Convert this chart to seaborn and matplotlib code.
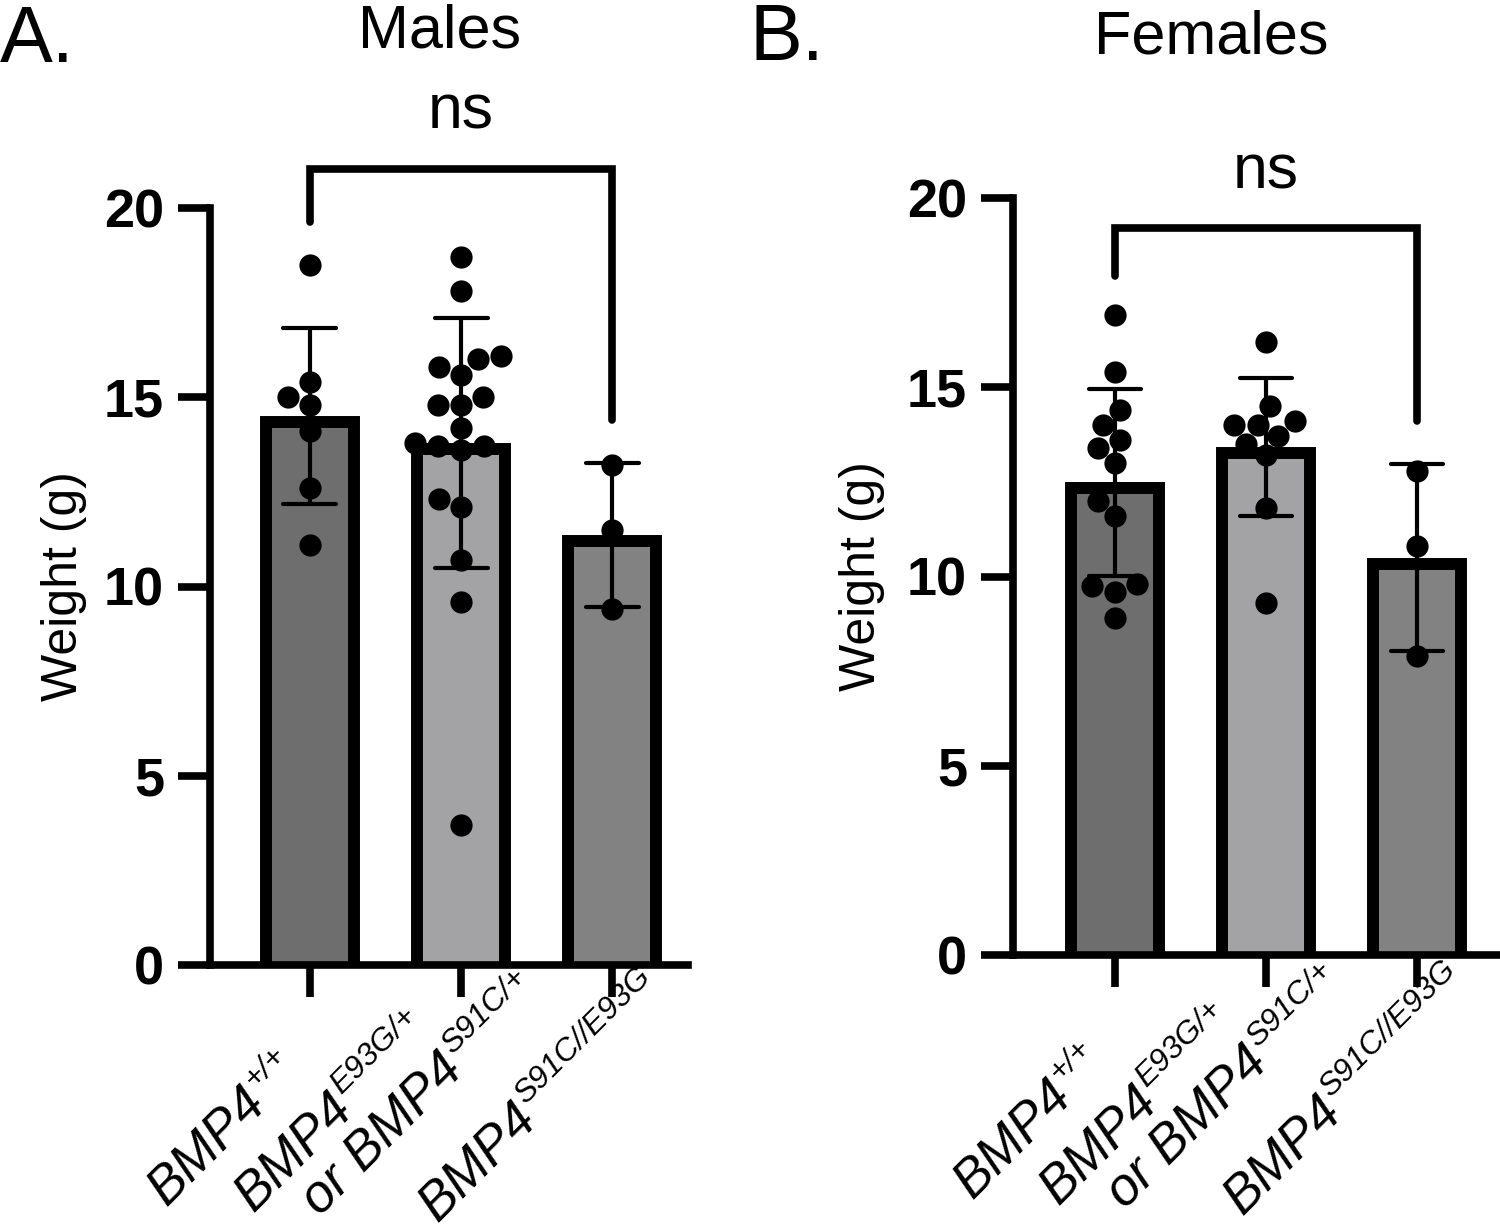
import matplotlib
matplotlib.use("Agg")
import matplotlib.pyplot as plt
import numpy as np
import pandas as pd
import seaborn as sns
from matplotlib.font_manager import FontProperties
from matplotlib.textpath import TextToPath

# ---- data ----
groups = ["wt", "het", "cmpd"]
# each label: list of lines, each line = (main text, superscript)
tick_labels = [
    [("BMP4", "+/+")],
    [("BMP4", "E93G/+"), ("or BMP4", "S91C/+")],
    [("BMP4", "S91C//E93G")],
]

male_wt = [18.5, 15.4, 15.0, 14.8, 14.1, 12.6, 11.1]
male_het = [18.7, 17.8, 16.1, 16.0, 15.8, 15.6, 15.0, 14.8, 14.8, 14.2,
            13.8, 13.7, 13.7, 13.6, 12.3, 12.1, 10.7, 9.6, 3.7]
male_cmpd = [13.2, 11.5, 9.4]

female_wt = [16.9, 15.4, 14.4, 14.0, 13.6, 13.4, 13.0, 12.0, 11.6,
             9.8, 9.75, 9.6, 8.9]
female_het = [16.2, 14.5, 14.1, 14.0, 14.0, 13.7, 13.5, 13.2, 11.8, 9.3]
female_cmpd = [12.8, 10.8, 7.9]

# ---- style ----
bar_colors = ["#6e6e6e", "#a3a3a7", "#828282"]
BAR_LW = 8.6      # pt
AX_LW = 5.5       # pt
LAB_FS = 38
SUP_FS = 23
# baseline start of each label line, px from (tick, axis line)
label_offsets = [[(-143, 242)], [(-208, 248), (-141, 252)], [(-175, 258)]]

sns.set_style("ticks")
plt.rcParams["font.family"] = ["Liberation Sans", "DejaVu Sans"]
for k in ("text.color", "axes.labelcolor", "axes.edgecolor",
          "xtick.color", "ytick.color"):
    plt.rcParams[k] = "black"

fig = plt.figure(figsize=(15, 12.29), dpi=100)
ax_m = fig.add_axes([210 / 1500, 264 / 1229, 478 / 1500, 757 / 1229])
ax_f = fig.add_axes([1013 / 1500, 274 / 1229, 487 / 1500, 757 / 1229])

t2p = TextToPath()
lab_prop = FontProperties(family="Liberation Sans", style="italic",
                          size=LAB_FS)
u = np.array([np.cos(np.pi / 4), np.sin(np.pi / 4)])
nrm = np.array([-np.sin(np.pi / 4), np.cos(np.pi / 4)])


def rot_text(ax, i, s, xy_off, fs):
    ax.annotate(s, xy=(i, 0), xycoords=("data", "axes fraction"),
                xytext=tuple(xy_off), textcoords="offset points",
                rotation=45, rotation_mode="anchor", ha="left",
                va="baseline", fontsize=fs, fontstyle="italic",
                annotation_clip=False)


def panel(ax, data, xlim, bracket, ns_y, ylab_x, lab_dy):
    df = pd.DataFrame({
        "group": np.repeat(groups, [len(v) for v in data]),
        "weight": np.concatenate(data),
    })
    sns.barplot(data=df, x="group", y="weight", hue="group", order=groups,
                hue_order=groups, palette=bar_colors, errorbar="sd",
                capsize=0.35, width=0.662, edgecolor="black",
                linewidth=BAR_LW, legend=False, ax=ax,
                err_kws={"color": "black", "linewidth": 3})
    ax.set_xlim(*xlim)
    ax.set_ylim(0, 20)

    # keep the thick outline inside the bar (GraphPad style)
    pos = ax.get_position()
    px_x = pos.width * fig.get_figwidth() * fig.dpi / (xlim[1] - xlim[0])
    px_y = pos.height * fig.get_figheight() * fig.dpi / 20
    half = BAR_LW * fig.dpi / 72 / 2
    for p in ax.patches:
        p.set_x(p.get_x() + half / px_x)
        p.set_width(p.get_width() - 2 * half / px_x)
        p.set_y(p.get_y() - half / px_y)

    sns.swarmplot(data=df, x="group", y="weight", order=groups, color="black",
                  size=16, linewidth=0, ax=ax, zorder=4, warn_thresh=1)
    ax.set_xlim(*xlim)
    ax.set_ylim(0, 20)

    sns.despine(ax=ax)
    for s in ("left", "bottom"):
        ax.spines[s].set_linewidth(AX_LW)
    ax.set_yticks([0, 5, 10, 15, 20])
    ax.set_yticklabels(["0", "5", "10", "15", "20"], fontweight="bold")
    ax.tick_params(axis="y", length=23, width=AX_LW, labelsize=39, pad=10)
    ax.set_xticks(range(len(groups)))
    ax.tick_params(axis="x", length=23, width=AX_LW, labelbottom=False)
    ax.set_xlabel("")
    ax.set_ylabel("Weight (g)", fontsize=36)
    ax.yaxis.set_label_coords(ylab_x, 0.5)

    # rotated genotype labels with superscripts
    for i, lines in enumerate(tick_labels):
        for (main, sup), (dx, dy) in zip(lines, label_offsets[i]):
            p0 = np.array([dx, -(dy + lab_dy)]) * 0.72
            w = t2p.get_text_width_height_descent(main, lab_prop, False)[0]
            rot_text(ax, i, main, p0, LAB_FS)
            rot_text(ax, i, sup, p0 + (w + 1.5) * u + 0.40 * LAB_FS * nrm,
                     SUP_FS)

    left_low, top, right_low = bracket
    ax.plot([0, 0, 2, 2], [left_low, top, top, right_low], color="black",
            lw=AX_LW, clip_on=False, solid_capstyle="round",
            solid_joinstyle="miter", zorder=5)
    ax.text(1, ns_y, "ns", ha="center", va="baseline", fontsize=45,
            clip_on=False)


panel(ax_m, [male_wt, male_het, male_cmpd], (-0.66, 2.5),
      (19.63, 21.04, 14.40), 22.11, -0.257, 0)
panel(ax_f, [female_wt, female_het, female_cmpd], (-0.675, 2.55),
      (17.94, 19.21, 14.12), 20.26, -0.263, 3)

fig.text(0.0, 1 - 62 / 1229, "A.", fontsize=57, va="baseline", ha="left")
fig.text(440 / 1500, 1 - 47 / 1229, "Males", fontsize=44, va="baseline",
         ha="center")
fig.text(749 / 1500, 1 - 60 / 1229, "B.", fontsize=57, va="baseline",
         ha="left")
fig.text(1211 / 1500, 1 - 53 / 1229, "Females", fontsize=44, va="baseline",
         ha="center")

fig.savefig("out.png", dpi=100)
